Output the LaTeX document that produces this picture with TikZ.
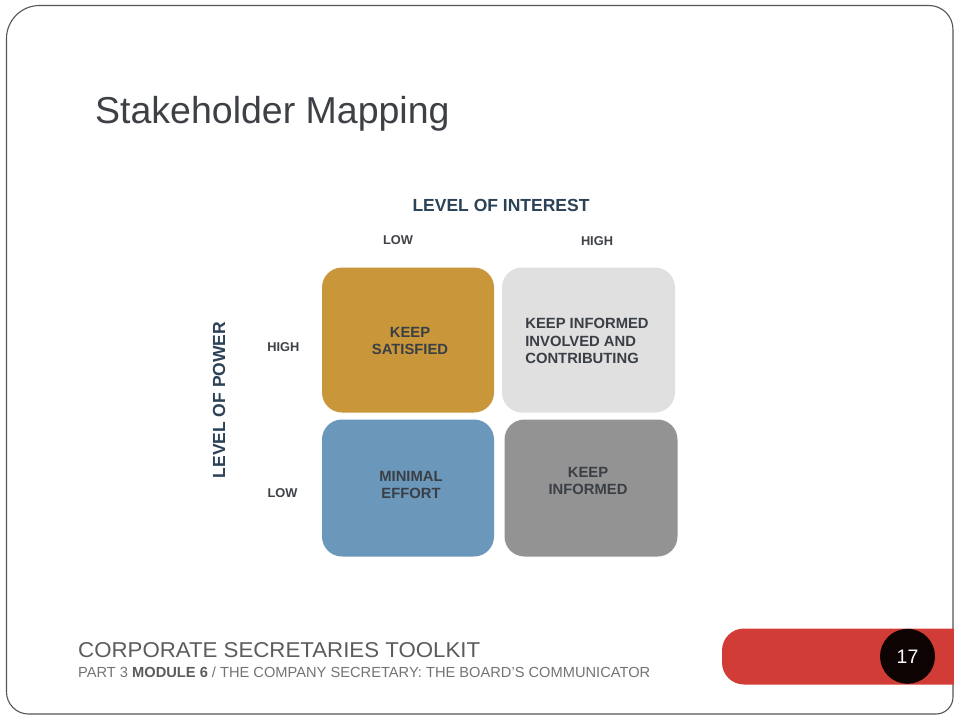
\documentclass[tikz,border=0pt]{standalone}
\usepackage{fontspec}
\usepackage{graphicx}
\setmainfont{Liberation Sans}
\definecolor{framecol}{HTML}{555555}
\definecolor{titlecol}{HTML}{3D4146}
\definecolor{navy}{HTML}{2B4257}
\definecolor{labcol}{HTML}{3F4348}
\definecolor{cellgold}{HTML}{C9963A}
\definecolor{celllight}{HTML}{E0E0E0}
\definecolor{cellblue}{HTML}{6B97BB}
\definecolor{celldark}{HTML}{939393}
\definecolor{celltext}{HTML}{3A3F45}
\definecolor{barred}{HTML}{D23C36}
\definecolor{dotblack}{HTML}{0D0303}
\definecolor{footcol}{HTML}{5C5C5C}
\definecolor{footcolb}{HTML}{747474}
\tikzset{
  cell/.style={rounded corners=20pt, inner sep=0pt, draw=none},
  celllabel/.style={text=celltext, font=\fontsize{14.8}{17.3}\selectfont\bfseries, inner sep=0pt},
  axislabel/.style={text=navy, font=\fontsize{17.5}{20}\selectfont\bfseries, inner sep=0pt},
  ticklabel/.style={text=labcol, font=\fontsize{12.8}{15}\selectfont\bfseries, inner sep=0pt},
}
\begin{document}
\begin{tikzpicture}[x=1pt,y=-1pt]
\useasboundingbox[fill=white] (0,0) rectangle (954,715);
% slide frame
\draw[framecol, line width=1.1pt]
  (6.5,38.5) .. controls (6.5,20.3) and (21.3,5.5) .. (39.5,5.5)
  -- (929,5.5) .. controls (942.3,5.5) and (953,16.2) .. (953,29.5)
  -- (953,697) .. controls (953,706.4) and (945.4,714) .. (936,714)
  -- (28.5,714) .. controls (16.4,714) and (6.5,704.1) .. (6.5,692)
  -- cycle;
% title
\node[anchor=base west, inner sep=0pt, text=titlecol, font=\fontsize{37.5}{40}\selectfont] (title) at (95,123) {Stakeholder Mapping};
% axis titles
\node[axislabel, anchor=base] (interest) at (501,211) {LEVEL OF INTEREST};
\node[axislabel, anchor=base, rotate=90] (power) at (225,400) {LEVEL OF POWER};
% tick labels
\node[ticklabel, anchor=base] (ilow) at (398,244.3) {LOW};
\node[ticklabel, anchor=base] (ihigh) at (597,245.7) {HIGH};
\node[ticklabel, anchor=base] (phigh) at (283.3,351.7) {HIGH};
\node[ticklabel, anchor=base] (plow) at (282.5,497.3) {LOW};
% cells
\node[cell, fill=cellgold, minimum width=172pt, minimum height=145pt] (ks) at (408,340) {};
\node[cell, fill=celllight, minimum width=173pt, minimum height=145pt] (ki) at (588.5,340) {};
\node[cell, fill=cellblue, minimum width=172pt, minimum height=137pt] (me) at (408,488) {};
\node[cell, fill=celldark, minimum width=173pt, minimum height=137pt] (kin) at (591,488) {};
\node[celllabel, align=center] (kst) at ([shift={(2,1.2)}]ks.center) {KEEP\\SATISFIED};
\node[celllabel, align=left] (kit) at ([shift={(-1.5,1.2)}]ki.center) {KEEP INFORMED\\INVOLVED AND\\CONTRIBUTING};
\node[celllabel, align=center] (met) at ([shift={(3,-3)}]me.center) {MINIMAL\\EFFORT};
\node[celllabel, align=center] (kint) at ([shift={(-3,-7)}]kin.center) {KEEP\\INFORMED};
% footer
\node[anchor=base west, inner sep=0pt, text=footcol] (foot1) at (78,657.3)
  {\resizebox{402pt}{15pt}{\fontsize{21}{21}\selectfont CORPORATE SECRETARIES TOOLKIT}};
\node[anchor=base west, inner sep=0pt, text=footcolb] (foot2) at (78,677.7)
  {\resizebox{572pt}{10.6pt}{\fontsize{14}{14}\selectfont PART 3 \textbf{\color{footcol}MODULE 6} / THE COMPANY SECRETARY: THE BOARD\char"27 S COMMUNICATOR}};
% page bar
\fill[barred, rounded corners=22pt] (722,628.5) rectangle (990,684.5);
\node[circle, fill=dotblack, minimum size=55pt, inner sep=0pt, text=white, font=\fontsize{19.5}{20}\selectfont] (pg) at (907.5,656.3) {17};
\end{tikzpicture}
\end{document}
